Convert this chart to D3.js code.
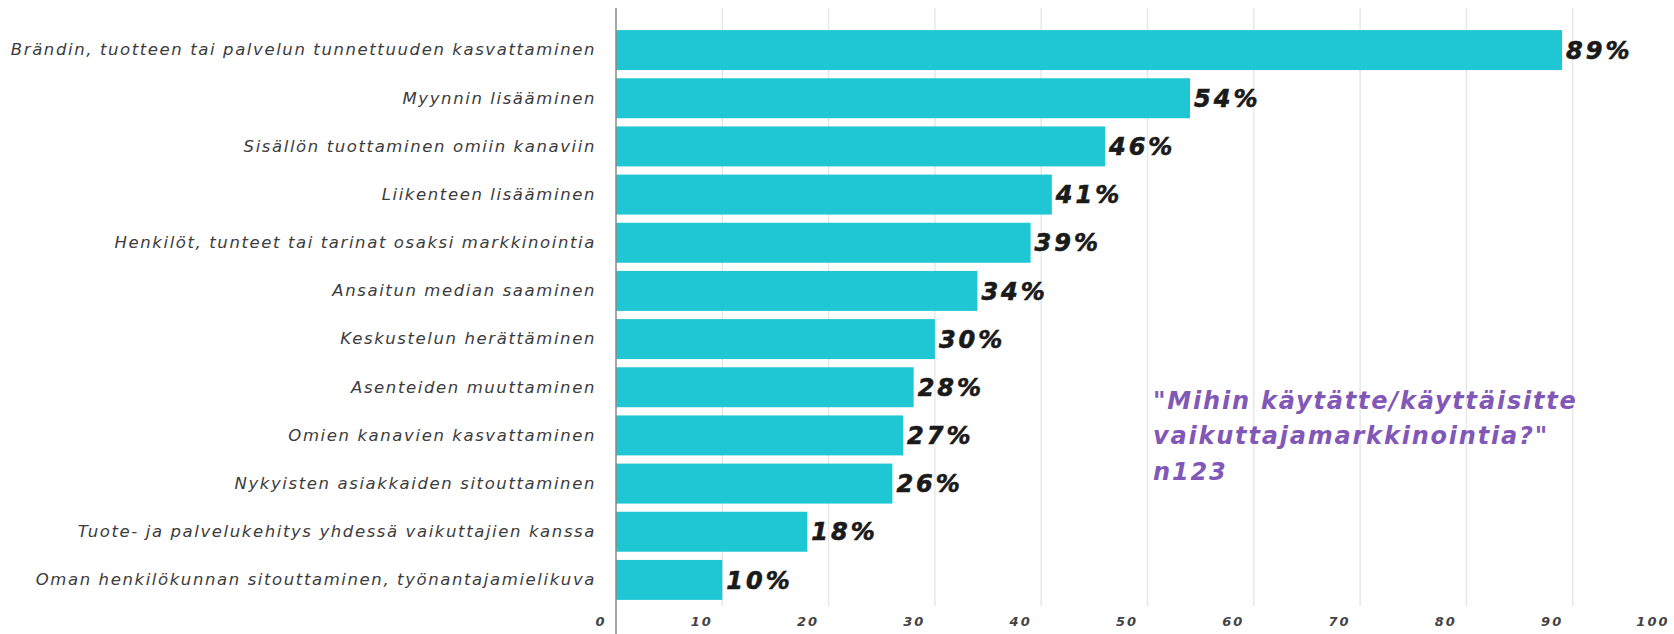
<!DOCTYPE html>
<html>
<head>
<meta charset="utf-8">
<script src="https://cdn.jsdelivr.net/npm/d3@7"></script>
<style>
  body { margin: 0; background: #fff; }
  svg { display: block; }
</style>
</head>
<body>
<div id="chart"></div>
<script>
const categories = [
  'Brändin, tuotteen tai palvelun tunnettuuden kasvattaminen',
  'Myynnin lisääminen',
  'Sisällön tuottaminen omiin kanaviin',
  'Liikenteen lisääminen',
  'Henkilöt, tunteet tai tarinat osaksi markkinointia',
  'Ansaitun median saaminen',
  'Keskustelun herättäminen',
  'Asenteiden muuttaminen',
  'Omien kanavien kasvattaminen',
  'Nykyisten asiakkaiden sitouttaminen',
  'Tuote- ja palvelukehitys yhdessä vaikuttajien kanssa',
  'Oman henkilökunnan sitouttaminen, työnantajamielikuva'
]
const values = [89, 54, 46, 41, 39, 34, 30, 28, 27, 26, 18, 10]
const tickValues = [0, 10, 20, 30, 40, 50, 60, 70, 80, 90, 100]
const noteLines = ['"Mihin käytätte/käyttäisitte', 'vaikuttajamarkkinointia?"', 'n123']

const width = 1674
const height = 634

const svg = d3
  .select('#chart')
  .append('svg')
  .attr('width', width)
  .attr('height', height)

const x = d3.scaleLinear().domain([0, 100]).range([616, 1679])

const y = d3
  .scaleBand()
  .domain(categories)
  .range([26, 604])
  .paddingInner(0.17)
  .paddingOuter(0.085)

// grid lines
svg
  .selectAll('.grid')
  .data(tickValues.slice(1))
  .enter()
  .append('line')
  .attr('class', 'grid')
  .attr('x1', d => x(d))
  .attr('x2', d => x(d))
  .attr('y1', 8)
  .attr('y2', 606)
  .attr('stroke', '#e8e8e8')
  .attr('stroke-width', 1.5)

svg
  .selectAll('.bar')
  .data(values)
  .enter()
  .append('rect')
  .attr('class', 'bar')
  .attr('x', x(0))
  .attr('y', (d, i) => y(categories[i]))
  .attr('width', d => x(d) - x(0))
  .attr('height', y.bandwidth())
  .attr('fill', '#1fc7d4')

// value labels
svg
  .selectAll('.value')
  .data(values)
  .enter()
  .append('text')
  .attr('class', 'value')
  .text(d => d + '%')
  .attr('x', d => x(d) + 4)
  .attr('y', (d, i) => y(categories[i]) + y.bandwidth() / 2)
  .attr('dy', '0.36em')
  .attr('font-family', 'DejaVu Sans')
  .attr('font-weight', 'bold')
  .attr('font-style', 'italic')
  .attr('font-size', 24)
  .attr('letter-spacing', 3)
  .attr('stroke', '#1a1a1a')
  .attr('stroke-width', 0.6)
  .attr('fill', '#1a1a1a')

// category axis
const yAxis = svg
  .append('g')
  .attr('transform', `translate(${x(0)},0)`)
  .call(d3.axisLeft(y).tickSize(0).tickPadding(20))

yAxis.select('.domain').remove()
yAxis
  .selectAll('text')
  .attr('font-family', 'DejaVu Sans')
  .attr('font-style', 'italic')
  .attr('font-size', 16.5)
  .attr('letter-spacing', 1.6)
  .attr('fill', '#3c3c3c')

svg
  .append('line')
  .attr('x1', x(0))
  .attr('x2', x(0))
  .attr('y1', 8)
  .attr('y2', height)
  .attr('stroke', '#8a8a8a')
  .attr('stroke-width', 1.5)

// value axis
const xAxis = svg
  .append('g')
  .attr('transform', 'translate(0,621)')
  .call(d3.axisBottom(x).tickValues(tickValues).tickSize(0).tickPadding(0))

xAxis.select('.domain').remove()
xAxis
  .selectAll('text')
  .attr('text-anchor', 'end')
  .attr('dx', -10)
  .attr('dy', '0.36em')
  .attr('font-family', 'DejaVu Sans')
  .attr('font-weight', 'bold')
  .attr('font-style', 'italic')
  .attr('font-size', 13)
  .attr('letter-spacing', 2)
  .attr('fill', '#444')

// annotation
svg
  .append('g')
  .selectAll('text')
  .data(noteLines)
  .enter()
  .append('text')
  .text(d => d)
  .attr('x', 1153)
  .attr('y', (d, i) => 400 + i * 35.5)
  .attr('dy', '0.36em')
  .attr('font-family', 'DejaVu Sans')
  .attr('font-weight', 'bold')
  .attr('font-style', 'italic')
  .attr('font-size', 24)
  .attr('letter-spacing', 1.8)
  .attr('fill', '#8157b8')
</script>
</body>
</html>
